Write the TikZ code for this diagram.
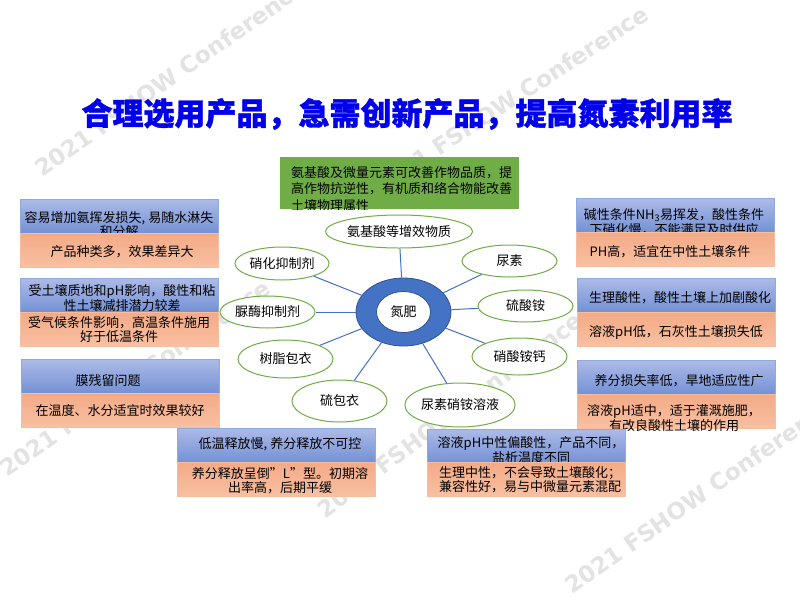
\documentclass[tikz,border=0pt]{standalone}
\usepackage{fontspec}
\newfontfamily\cjk{Noto Sans CJK SC}
\newfontfamily\cjkt[BoldFeatures={FakeBold=1.2}]{Noto Sans CJK SC}
\newfontfamily\wm{DejaVu Sans}
\usetikzlibrary{shapes.geometric}
\definecolor{titleblue}{RGB}{0,0,235}
\definecolor{ggreen}{RGB}{112,173,71}
\definecolor{lblue}{RGB}{68,114,196}
\definecolor{dblue}{RGB}{47,82,143}
\definecolor{bxtop}{RGB}{172,186,232}
\definecolor{bxbot}{RGB}{116,145,212}
\definecolor{bxline}{RGB}{143,170,220}
\definecolor{ortop}{RGB}{244,170,134}
\definecolor{orbot}{RGB}{248,192,162}
\definecolor{orline}{RGB}{246,190,160}
\tikzset{
  bbox/.style={draw=bxline, top color=bxtop, bottom color=bxbot, line width=0.6pt,
    minimum width=198pt, minimum height=34pt, inner sep=0, anchor=north west},
  obox/.style={draw=orline, top color=ortop, bottom color=orbot, line width=0.6pt,
    minimum width=198pt, minimum height=34pt, inner sep=0, anchor=north west},
  ell/.style={ellipse, draw=ggreen, fill=white, line width=1pt, inner sep=0,
    font=\cjk\fontsize{13}{15}\selectfont},
  conn/.style={draw=lblue, line width=1pt},
  txt/.style={font=\cjk\fontsize{13}{14}\selectfont, align=center, inner sep=0, text=black},
  tight/.style={font=\cjk\fontsize{13}{12.5}\selectfont},
  wmark/.style={font=\wm\bfseries\fontsize{23}{23}\selectfont, text=black!11, inner sep=0}
}
\begin{document}
\begin{tikzpicture}[x=1pt,y=-1pt]
\useasboundingbox (0,0) rectangle (800,600);
\fill[white] (0,0) rectangle (800,600);

% watermarks
\node[wmark, rotate=35] (w1) at (170,78) {2021 FSHOW Conference};
\node[wmark, rotate=33] (w2) at (510,100) {2021 FSHOW Conference};
\node[wmark, rotate=35] (w3) at (135,378) {2021 FSHOW Conference};
\node[wmark, rotate=37] (w4) at (450,415) {2021 FSHOW Conference};
\node[wmark, rotate=35] (w5) at (700,495) {2021 FSHOW Conference};

% title
\node[font=\cjkt\bfseries\fontsize{31}{31}\selectfont, text=titleblue, inner sep=0] (title) at (407,114)
  {合理选用产品，急需创新产品，提高氮素利用率};

% green box
\node[draw=none, fill=ggreen, minimum width=239pt, minimum height=52pt, inner sep=0, anchor=north west] (gbox) at (280,157) {};
\begin{scope}
\clip (280,157) rectangle (519,209);
\node[font=\cjk\fontsize{13}{16.5}\selectfont, align=left, inner sep=0, anchor=north west, text=black] (gtext) at (291,166)
  {氨基酸及微量元素可改善作物品质，提\\高作物抗逆性，有机质和络合物能改善\\土壤物理属性};
\end{scope}

% left boxes
\node[bbox] (l1b) at (20,199) {};
\node[txt] (l1bt) at (119,225) {容易增加氨挥发损失, 易随水淋失\\和分解};
\node[obox] (l1o) at (20,233) {};
\node[txt] (l1ot) at (122,252) {产品种类多，效果差异大};

\node[bbox] (l2b) at (20,278) {};
\node[txt, tight] (l2bt) at (122,298.5) {受土壤质地和pH影响，酸性和粘\\性土壤减排潜力较差};
\node[obox] (l2o) at (20,312) {};
\node[txt] (l2ot) at (119,330) {受气候条件影响，高温条件施用\\好于低温条件};

\node[bbox] (l3b) at (21,359) {};
\node[txt] (l3bt) at (108,381) {膜残留问题};
\node[obox] (l3o) at (21,393) {};
\node[txt] (l3ot) at (120,411) {在温度、水分适宜时效果较好};

% right boxes
\node[bbox] (r1b) at (576,198) {};
\node[txt, tight] (r1bt) at (674,222) {碱性条件NH\textsubscript{3}易挥发，酸性条件\\下硝化慢，不能满足及时供应};
\node[obox] (r1o) at (576,232) {};
\node[txt] (r1ot) at (670,252) {PH高，适宜在中性土壤条件};

\node[bbox] (r2b) at (577,278) {};
\node[txt] (r2bt) at (680,298) {生理酸性，酸性土壤上加剧酸化};
\node[obox] (r2o) at (577,312) {};
\node[txt] (r2ot) at (676,332) {溶液pH低，石灰性土壤损失低};

\node[bbox] (r3b) at (577,360) {};
\node[txt] (r3bt) at (679,381) {养分损失率低，旱地适应性广};
\node[obox] (r3o) at (577,394) {};
\node[txt, tight] (r3ot) at (674,418) {溶液pH适中，适于灌溉施肥，\\有改良酸性土壤的作用};

% bottom boxes
\node[bbox] (b1b) at (177,428) {};
\node[txt] (b1bt) at (280,444) {低温释放慢, 养分释放不可控};
\node[obox] (b1o) at (177,462) {};
\node[txt] (b1ot) at (280,481) {养分释放呈倒”L”型。初期溶\\出率高，后期平缓};

\node[bbox] (b2b) at (427,429) {};
\node[txt, tight] (b2bt) at (531,450) {溶液pH中性偏酸性，产品不同，\\盐析温度不同};
\node[obox] (b2o) at (427,462) {};
\node[txt, tight] (b2ot) at (530,480) {生理中性，不会导致土壤酸化；\\兼容性好，易与中微量元素混配};

% center ring
\node[ellipse, fill=lblue, draw=dblue, line width=0.8pt, minimum width=95pt, minimum height=68pt, inner sep=0] (ring) at (403.5,312) {};
\node[ellipse, fill=white, draw=dblue, line width=0.8pt, minimum width=54pt, minimum height=41pt, inner sep=0,
  font=\cjk\fontsize{13}{15}\selectfont] (core) at (403.5,312) {氮肥};

% satellites
\node[ell, minimum width=126pt, minimum height=33pt] (e1) at (399,231.5) {氨基酸等增效物质};
\node[ell, minimum width=94pt, minimum height=33pt] (e2) at (282,263.5) {硝化抑制剂};
\node[ell, minimum width=95pt, minimum height=32pt] (e3) at (509.5,261) {尿素};
\node[ell, minimum width=95pt, minimum height=32pt] (e4) at (525.5,306) {硫酸铵};
\node[ell, minimum width=95pt, minimum height=32pt] (e5) at (267.5,312) {脲酶抑制剂};
\node[ell, minimum width=95pt, minimum height=38pt] (e6) at (285.5,359) {树脂包衣};
\node[ell, minimum width=95pt, minimum height=37pt] (e7) at (519.5,356.5) {硝酸铵钙};
\node[ell, minimum width=95pt, minimum height=42pt] (e8) at (339.5,401) {硫包衣};
\node[ell, minimum width=94pt, minimum height=44pt] (e9) at (460,405) {尿素硝铵溶液};

\foreach \e in {e1,e2,e3,e4,e5,e6,e7,e8,e9}
  \draw[conn] (ring) -- (\e);
\end{tikzpicture}
\end{document}
